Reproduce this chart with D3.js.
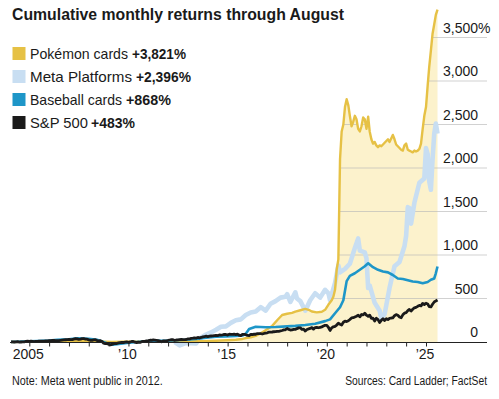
<!DOCTYPE html>
<html><head><meta charset="utf-8">
<script src="https://cdn.jsdelivr.net/npm/d3@7"></script>
<style>
body{margin:0;background:#fff}
svg{display:block}
text{font-family:"Liberation Sans",Arial,sans-serif;fill:#1a1a1a}
</style>
</head><body>
<svg id="chart" width="499" height="399"></svg>
<script>
// ---------- data ----------
const titleText = "Cumulative monthly returns through August";
const seriesNames = ["Pokémon cards", "Meta Platforms", "Baseball cards", "S&P 500"];
const seriesTotals = ["+3,821%", "+2,396%", "+868%", "+483%"];
const seriesColors = ["#e6c145", "#c8def2", "#1e96c8", "#1a1a1a"];
const yTicks = [0, 500, 1000, 1500, 2000, 2500, 3000, 3500];
const yTickLabels = ["0", "500", "1,000", "1,500", "2,000", "2,500", "3,000", "3,500"];
const xTickYears = [2005,2006,2007,2008,2009,2010,2011,2012,2013,2014,2015,2016,2017,2018,2019,2020,2021,2022,2023,2024,2025];
const xLabelYears = [2005, 2010, 2015, 2020, 2025];
const xLabels = ["2005", "’10", "’15", "’20", "’25"];
const noteText = "Note: Meta went public in 2012.";
const sourceText = "Sources: Card Ladder; FactSet";

// S&P 500, monthly from 2004-02
const spStart = "2004-02";
const spValues = [
  3,2,0,1,3,-1,0,1,2,6,9,
  7,9,7,4,8,7,11,10,11,9,13,13,
  16,16,17,18,15,15,15,18,21,24,26,28,
  30,27,28,34,38,36,31,33,38,40,34,32,
  24,20,19,25,26,16,14,16,5,-13,-19,-18,
  -25,-34,-28,-21,-17,-17,-11,-8,-5,-6,-1,1,
  -3,0,6,7,-2,-7,-1,-5,3,7,7,14,
  16,20,20,23,21,19,17,10,2,13,13,14,
  18,23,27,26,18,23,24,27,30,27,28,29,
  35,37,42,44,47,45,52,47,52,59,63,67,
  61,68,69,70,74,77,74,81,78,82,87,86,
  80,90,87,88,90,86,90,78,73,88,88,84,
  75,74,86,86,89,89,96,96,96,92,98,102,
  106,113,113,115,118,119,123,123,127,132,139,141,
  155,145,138,139,144,145,154,162,163,145,149,126,
  144,151,156,166,148,166,169,164,169,174,183,192,
  191,167,133,163,175,180,195,216,204,195,227,239,
  235,244,259,277,279,288,297,308,289,316,312,330,
  308,295,309,273,273,242,273,257,224,249,268,247,
  268,258,271,276,277,302,314,307,287,279,312,331,
  337,360,374,355,376,393,398,410,420,415,444,431,
  445,437,406,403,434,460,472,483
];

const pokemon = [
  ["2004-02",0],["2004-08",2],["2005-03",3],["2005-10",5],["2006-06",7],["2007-03",9],["2007-10",10],
  ["2008-06",7],["2009-03",2],["2009-10",3],["2010-06",4],["2011-03",5],["2011-10",5],["2012-06",6],
  ["2013-03",8],["2013-10",10],["2014-06",14],["2015-01",20],["2015-06",26],["2015-10",35],["2015-12",45],
  ["2016-03",55],["2016-06",70],["2016-09",100],["2016-12",135],["2017-02",160],["2017-04",185],
  ["2017-07",250],["2017-10",310],["2018-01",325],["2018-04",335],["2018-06",350],["2018-09",365],
  ["2018-12",380],["2019-02",370],["2019-04",350],["2019-07",340],["2019-10",348],["2019-12",370],
  ["2020-02",430],["2020-04",480],["2020-05",520],["2020-06",600],["2020-07",830],["2020-08",950],
  ["2020-09",2100],["2020-10",2420],["2020-11",2500],["2020-12",2700],["2021-01",2790],["2021-02",2720],
  ["2021-03",2600],["2021-04",2480],["2021-05",2530],["2021-06",2600],["2021-07",2560],["2021-08",2450],
  ["2021-09",2420],["2021-10",2480],["2021-11",2580],["2021-12",2560],["2022-01",2450],["2022-02",2590],
  ["2022-03",2420],["2022-04",2330],["2022-05",2280],["2022-06",2300],["2022-07",2260],["2022-08",2240],
  ["2022-09",2260],["2022-10",2250],["2022-11",2270],["2022-12",2290],["2023-01",2310],["2023-02",2330],
  ["2023-03",2300],["2023-04",2340],["2023-05",2380],["2023-06",2330],["2023-07",2270],["2023-08",2250],
  ["2023-09",2230],["2023-10",2210],["2023-11",2200],["2023-12",2260],["2024-01",2280],["2024-02",2210],
  ["2024-03",2200],["2024-04",2190],["2024-05",2180],["2024-06",2200],["2024-07",2190],["2024-08",2200],
  ["2024-09",2220],["2024-10",2280],["2024-11",2450],["2024-12",2600],["2025-01",2700],["2025-02",2950],
  ["2025-03",3160],["2025-04",3350],["2025-05",3540],["2025-06",3650],["2025-07",3760],["2025-08",3821]
];

const meta = [
  ["2012-05",0],["2012-08",-39],["2012-12",-10],["2013-06",-16],["2013-08",40],["2013-12",85],
  ["2014-03",110],["2014-06",140],["2014-09",175],["2014-12",180],["2015-03",220],["2015-06",250],
  ["2015-09",260],["2015-12",310],["2016-03",340],["2016-06",350],["2016-09",400],["2016-12",360],
  ["2017-03",440],["2017-06",470],["2017-09",510],["2017-12",520],["2018-01",550],["2018-03",460],
  ["2018-06",570],["2018-07",500],["2018-09",470],["2018-12",360],["2019-03",480],["2019-06",560],
  ["2019-09",510],["2019-12",600],["2020-02",560],["2020-03",480],["2020-06",680],["2020-08",880],
  ["2020-09",800],["2020-12",840],["2021-03",900],["2021-06",1080],["2021-08",1190],["2021-09",1050],
  ["2021-12",1030],["2022-01",960],["2022-02",620],["2022-03",650],["2022-06",450],["2022-09",360],
  ["2022-10",270],["2022-12",320],["2023-03",620],["2023-06",870],["2023-09",920],["2023-12",1100],
  ["2024-01",1220],["2024-02",1550],["2024-03",1540],["2024-04",1360],["2024-06",1600],["2024-09",1830],
  ["2024-12",1880],["2025-01",2230],["2025-02",2160],["2025-03",1850],["2025-04",1750],["2025-05",2090],
  ["2025-06",2390],["2025-07",2510],["2025-08",2396]
];

const baseball = [
  ["2004-02",0],["2004-06",3],["2005-01",8],["2005-06",12],["2006-01",18],["2006-06",25],["2007-01",32],
  ["2007-06",42],["2008-01",38],["2008-06",25],["2008-12",-15],["2009-03",-30],["2009-06",-25],
  ["2009-12",-10],["2010-06",0],["2010-12",8],["2011-06",15],["2011-12",15],["2012-06",20],["2012-12",25],
  ["2013-06",35],["2013-12",50],["2014-06",60],["2014-12",65],["2015-06",70],["2015-10",75],["2015-12",95],
  ["2016-02",150],["2016-06",175],["2016-12",170],["2017-06",172],["2018-01",180],["2018-06",185],
  ["2018-12",195],["2019-06",210],["2019-12",240],["2020-03",260],["2020-06",330],["2020-09",400],
  ["2020-11",480],["2021-01",700],["2021-03",760],["2021-06",790],["2021-09",830],["2021-12",870],
  ["2022-02",905],["2022-05",860],["2022-08",830],["2022-11",810],["2023-02",800],["2023-05",770],
  ["2023-08",730],["2023-11",725],["2024-02",710],["2024-05",695],["2024-08",690],["2024-11",675],
  ["2025-02",690],["2025-04",715],["2025-06",730],["2025-07",790],["2025-08",868]
];

// ---------- drawing ----------
const svg = d3.select("#chart");
const parse = d3.timeParse("%Y-%m");
const toPts = arr => arr.map(d => ({date: parse(d[0]), value: d[1]}));
const spPts = spValues.map((v, i) => ({date: d3.timeMonth.offset(parse(spStart), i), value: v}));
const pokePts = toPts(pokemon), metaPts = toPts(meta), basePts = toPts(baseball);

const x = d3.scaleTime()
  .domain([new Date(2005, 0, 1), new Date(2025, 0, 1)])
  .range([29.3, 426]);
const y = d3.scaleLinear().domain([0, 3500]).range([342, 37.5]);
const gridLeft = 10, gridRight = 487;
const lastX = x(pokePts[pokePts.length - 1].date);

const area = d3.area().x(d => x(d.date)).y0(y(0)).y1(d => y(d.value));
const line = d3.line().x(d => x(d.date)).y(d => y(d.value));

// shaded area under Pokémon
svg.append("path").attr("d", area(pokePts)).attr("fill", "#fcf2cc");

// gridline clip: inside area + right strip
const defs = svg.append("defs");
const clip = defs.append("clipPath").attr("id", "gclip");
clip.append("path").attr("d", area(pokePts));
clip.append("rect").attr("x", lastX).attr("y", 0).attr("width", gridRight - lastX + 2).attr("height", y(0));

const grid = svg.append("g").attr("clip-path", "url(#gclip)");
grid.selectAll("line").data(yTicks.filter(t => t > 0)).join("line")
  .attr("x1", gridLeft).attr("x2", gridRight)
  .attr("y1", d => y(d)).attr("y2", d => y(d))
  .attr("stroke", "#b8b8b8").attr("stroke-opacity", 0.65).attr("stroke-width", 1);

// y labels
svg.append("g").selectAll("text").data(yTicks).join("text")
  .attr("x", 478).attr("y", d => y(d) - 5)
  .attr("text-anchor", "end").attr("font-size", 14)
  .text((d, i) => yTickLabels[i]);
svg.append("text").attr("x", 478).attr("y", y(3500) - 5).attr("font-size", 14).text("%");

// lines
const seriesPts = [pokePts, metaPts, basePts, spPts];
const widths = [2.4, 4.6, 2.6, 2.8];
const order = [1, 0, 2, 3];
order.forEach(i => {
  svg.append("path").attr("d", line(seriesPts[i]))
    .attr("fill", "none").attr("stroke", seriesColors[i])
    .attr("stroke-width", widths[i]).attr("stroke-linejoin", "round");
});

// x axis
svg.append("line").attr("x1", gridLeft).attr("x2", gridRight)
  .attr("y1", y(0) + 0.5).attr("y2", y(0) + 0.5)
  .attr("stroke", "#222").attr("stroke-width", 1.2);
const xAxis = d3.axisBottom(x)
  .tickValues(xTickYears.map(yr => new Date(yr, 0, 1)))
  .tickSize(4).tickFormat("");
const gx = svg.append("g").attr("transform", `translate(0,${y(0) + 0.5})`).call(xAxis);
gx.select(".domain").remove();
gx.selectAll(".tick line").attr("stroke", "#222");
svg.append("g").selectAll("text").data(xLabelYears).join("text")
  .attr("x", d => x(new Date(d, 0, 1)) - 1).attr("y", 359)
  .attr("text-anchor", "middle").attr("font-size", 14)
  .text((d, i) => xLabels[i]);

// title
svg.append("text").attr("x", 12).attr("y", 20)
  .attr("font-size", 16).attr("font-weight", "bold")
  .attr("textLength", 332).attr("lengthAdjust", "spacingAndGlyphs")
  .text(titleText);

// legend
const labelLen = [98, 102, 92, 58];
const totalX = [132, 136, 126, 91];
const totalLen = [54, 55, 45, 44];
seriesNames.forEach((name, i) => {
  const top = 47 + i * 23;
  svg.append("rect").attr("x", 12.5).attr("y", top).attr("width", 13).attr("height", 13)
    .attr("fill", seriesColors[i]);
  svg.append("text").attr("x", 30).attr("y", top + 11.5).attr("font-size", 15)
    .attr("textLength", labelLen[i]).attr("lengthAdjust", "spacingAndGlyphs").text(name);
  svg.append("text").attr("x", totalX[i]).attr("y", top + 11.5).attr("font-size", 15)
    .attr("font-weight", "bold")
    .attr("textLength", totalLen[i]).attr("lengthAdjust", "spacingAndGlyphs").text(seriesTotals[i]);
});

// footer (condensed by horizontal scaling to match the narrow type)
function footer(txt, anchorX, anchor, targetW) {
  const t = svg.append("text").attr("x", 0).attr("y", 0).attr("font-size", 12.5)
    .attr("text-anchor", anchor).text(txt);
  const w = t.node().getComputedTextLength();
  t.attr("transform", `translate(${anchorX},385) scale(${targetW / w},1)`);
}
footer(noteText, 12, "start", 151);
footer(sourceText, 487, "end", 142);
</script>
</body></html>
